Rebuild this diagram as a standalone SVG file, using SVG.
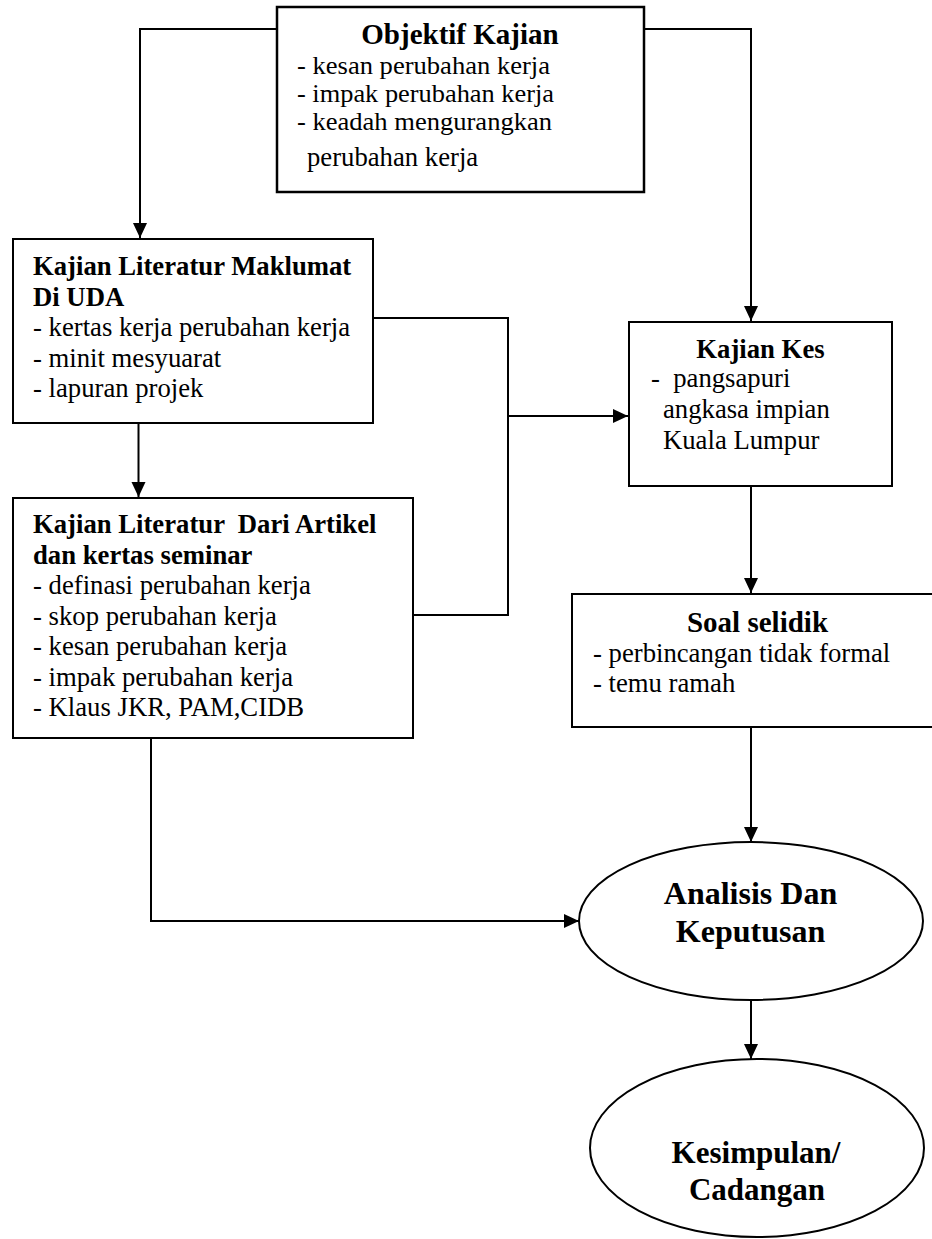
<svg xmlns="http://www.w3.org/2000/svg" width="932" height="1239" viewBox="0 0 932 1239">
<defs>
<marker id="arr" markerUnits="userSpaceOnUse" markerWidth="16" markerHeight="16" viewBox="0 0 16 16" refX="15" refY="8" orient="auto">
<path d="M0,1 L15,8 L0,15 Z" fill="#000"/>
</marker>
<style>
.box{fill:#fff;stroke:#000;stroke-width:2}
.t{font-family:"Liberation Serif","Times New Roman",serif;font-size:26.7px;fill:#000}
.b{font-weight:bold}
.s{font-size:25.5px}
.c{fill:none;stroke:#000;stroke-width:2}
</style>
</defs>
<rect width="932" height="1239" fill="#fff"/>
<g id="connectors">
<path class="c" d="M277,29 H140 V238" marker-end="url(#arr)"/>
<path class="c" d="M644,29 H751 V321" marker-end="url(#arr)"/>
<path class="c" d="M373,318 H508 V615 H413"/>
<path class="c" d="M508,416 H628" marker-end="url(#arr)"/>
<path class="c" d="M138.5,423 V497" marker-end="url(#arr)"/>
<path class="c" d="M751,486 V593" marker-end="url(#arr)"/>
<path class="c" d="M751,727 V842" marker-end="url(#arr)"/>
<path class="c" d="M151,737 V921 H579" marker-end="url(#arr)"/>
<path class="c" d="M751,1000 V1059" marker-end="url(#arr)"/>
</g>
<g id="objektif">
<rect class="box" x="277" y="7" width="367" height="185" style="stroke-width:2.5"/>
<text class="t b" x="460" y="44" text-anchor="middle" style="font-size:29px">Objektif Kajian</text>
<text class="t s" x="297" y="74" textLength="253" lengthAdjust="spacingAndGlyphs">- kesan perubahan kerja</text>
<text class="t s" x="297" y="102" textLength="257" lengthAdjust="spacingAndGlyphs">- impak perubahan kerja</text>
<text class="t s" x="297" y="130" textLength="255" lengthAdjust="spacingAndGlyphs">- keadah mengurangkan</text>
<text class="t" x="307" y="166">perubahan kerja</text>
</g>
<g id="literatur-uda">
<rect class="box" x="13" y="239" width="360" height="184"/>
<text class="t b" x="33" y="275">Kajian Literatur Maklumat</text>
<text class="t b" x="33" y="305.5">Di UDA</text>
<text class="t" x="33" y="336">- kertas kerja perubahan kerja</text>
<text class="t" x="33" y="366.5">- minit mesyuarat</text>
<text class="t" x="33" y="397">- lapuran projek</text>
</g>
<g id="literatur-artikel">
<rect class="box" x="13" y="498" width="400" height="240"/>
<text class="t b" x="33" y="533" xml:space="preserve">Kajian Literatur  Dari Artikel</text>
<text class="t b" x="33" y="563.5">dan kertas seminar</text>
<text class="t" x="33" y="594">- definasi perubahan kerja</text>
<text class="t" x="33" y="624.5">- skop perubahan kerja</text>
<text class="t" x="33" y="655">- kesan perubahan kerja</text>
<text class="t" x="33" y="685.5">- impak perubahan kerja</text>
<text class="t" x="33" y="716">- Klaus JKR, PAM,CIDB</text>
</g>
<g id="kajian-kes">
<rect class="box" x="629" y="322" width="263" height="164"/>
<text class="t b" x="760.5" y="358" text-anchor="middle">Kajian Kes</text>
<text class="t" x="651" y="387" xml:space="preserve">-  pangsapuri</text>
<text class="t" x="663" y="418">angkasa impian</text>
<text class="t" x="663" y="449">Kuala Lumpur</text>
</g>
<g id="soal-selidik">
<rect class="box" x="572" y="594" width="380" height="133"/>
<text class="t b" x="757.5" y="632" text-anchor="middle" style="font-size:29px">Soal selidik</text>
<text class="t" x="593" y="662">- perbincangan tidak formal</text>
<text class="t" x="593" y="692">- temu ramah</text>
</g>
<g id="analisis">
<ellipse class="box" cx="751" cy="921" rx="172" ry="79"/>
<text class="t b" x="750.5" y="904" text-anchor="middle" style="font-size:32px">Analisis Dan</text>
<text class="t b" x="750.5" y="942" text-anchor="middle" style="font-size:32px">Keputusan</text>
</g>
<g id="kesimpulan">
<ellipse class="box" cx="757" cy="1148" rx="167" ry="89"/>
<text class="t b" x="756" y="1163" text-anchor="middle" style="font-size:31px">Kesimpulan/</text>
<text class="t b" x="757" y="1200" text-anchor="middle" style="font-size:31px">Cadangan</text>
</g>
</svg>
